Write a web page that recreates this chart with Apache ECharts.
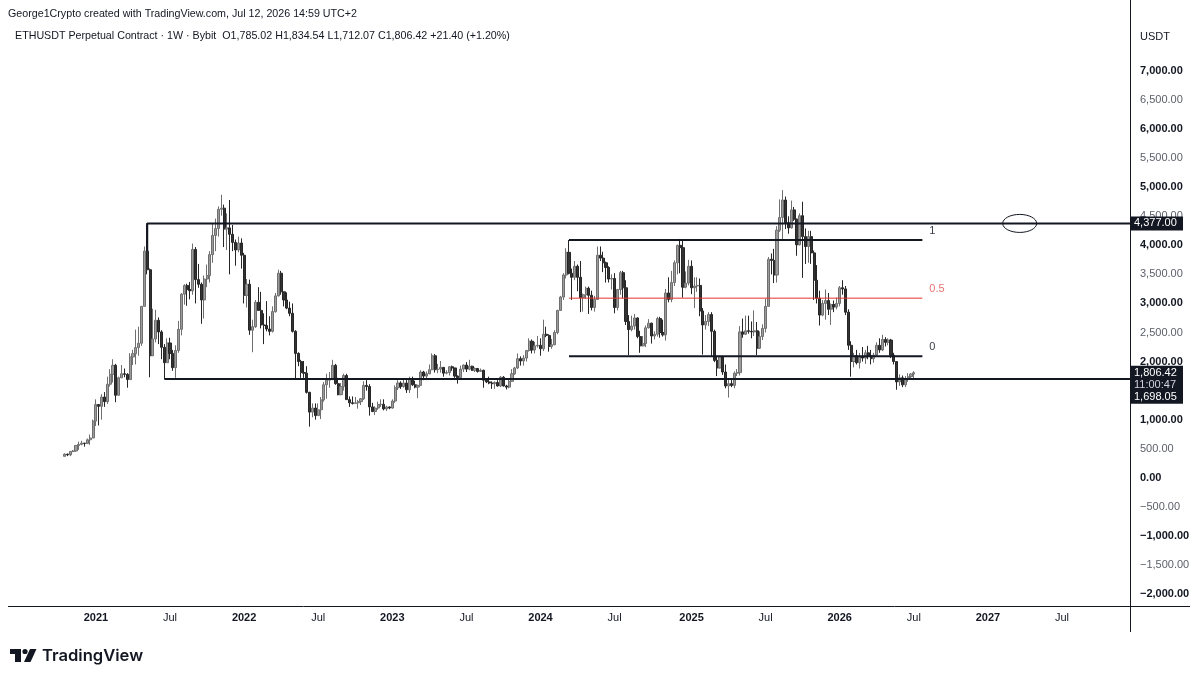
<!DOCTYPE html>
<html>
<head>
<meta charset="utf-8">
<title>ETHUSDT Perpetual 1W</title>
<script src="https://cdn.jsdelivr.net/npm/echarts@6/dist/echarts.min.js"></script>
<style>
  html, body { margin: 0; padding: 0; background: #ffffff; }
  #main { width: 1200px; height: 681px; }
</style>
</head>
<body>
<div id="main"></div>
<script>
// weekly candles [open, high, low, close], one row per week starting at firstWeek
var firstWeek = '2020-10-19';

var ohlc2020 = [
  [369, 421, 368, 406], [406, 416, 372, 396], [396, 460, 373, 454], [454, 478, 440, 461],
  [461, 560, 447, 556], [556, 622, 480, 575], [575, 636, 560, 596], [596, 601, 536, 590],
  [590, 675, 580, 654], [654, 745, 567, 685], [685, 1000, 680, 975]
];

var ohlc2021 = [
  [975, 1350, 890, 1260], [1260, 1270, 900, 1230], [1230, 1440, 1000, 1390], [1390, 1475, 1220, 1310],
  [1310, 1740, 1270, 1610], [1610, 1870, 1570, 1780], [1780, 2040, 1640, 1935], [1935, 1960, 1300, 1420],
  [1420, 1740, 1420, 1720], [1720, 1940, 1720, 1790], [1790, 1880, 1730, 1780], [1780, 1800, 1550, 1690],
  [1690, 2145, 1690, 2080], [2080, 2200, 1940, 2135], [2135, 2550, 1950, 2240], [2240, 2600, 2100, 2315],
  [2315, 2950, 2270, 2950], [2950, 3980, 2950, 3900], [3900, 4377, 3500, 3580], [3580, 3600, 1730, 2100],
  [2100, 2910, 2100, 2390], [2390, 2890, 2330, 2710], [2710, 2760, 2300, 2510], [2510, 2540, 2040, 2245],
  [2245, 2300, 1698.05, 1980], [1980, 2400, 1980, 2320], [2320, 2410, 2040, 2140], [2140, 2200, 1840, 1895],
  [1895, 2280, 1720, 2190], [2190, 2700, 2150, 2555], [2555, 3180, 2450, 3160], [3160, 3330, 2980, 3310],
  [3310, 3340, 2960, 3240], [3240, 3370, 3070, 3220], [3220, 4030, 3150, 3930], [3930, 3970, 3000, 3410],
  [3410, 3680, 3270, 3330], [3330, 3360, 2650, 3060], [3060, 3480, 2740, 3420], [3420, 3670, 3280, 3480],
  [3480, 3900, 3360, 3840], [3840, 4380, 3700, 4170], [4170, 4460, 3900, 4290], [4290, 4670, 4150, 4620],
  [4620, 4870, 4510, 4640], [4640, 4700, 3970, 4280], [4280, 4550, 3920, 4300], [4300, 4780, 3500, 4190],
  [4190, 4350, 3900, 4050], [4050, 4100, 3650, 3920], [3920, 4150, 3880, 4040], [4040, 4120, 3600, 3830]
];

var ohlc2022 = [
  [3830, 3870, 3000, 3140], [3140, 3420, 2930, 3330], [3330, 3410, 2460, 2540], [2540, 2720, 2160, 2600],
  [2600, 3060, 2580, 3020], [3020, 3280, 2870, 2880], [2880, 3200, 2570, 2630], [2630, 2830, 2300, 2620],
  [2620, 3040, 2520, 2560], [2560, 2780, 2450, 2520], [2520, 2950, 2500, 2860], [2860, 3180, 2840, 3130],
  [3130, 3580, 3120, 3520], [3520, 3560, 3150, 3200], [3200, 3200, 2950, 3060], [3060, 3190, 2900, 2920],
  [2920, 3030, 2780, 2830], [2830, 3000, 2500, 2520], [2520, 2540, 1700, 2140], [2140, 2160, 1920, 2000],
  [2000, 2030, 1720, 1810], [1810, 2010, 1720, 1800], [1800, 1920, 1450, 1470], [1470, 1480, 880, 1130],
  [1130, 1280, 1040, 1200], [1200, 1280, 1000, 1070], [1070, 1280, 1070, 1170], [1170, 1390, 1010, 1340],
  [1340, 1650, 1310, 1600], [1600, 1790, 1360, 1680], [1680, 1820, 1550, 1700], [1700, 2030, 1680, 1935],
  [1935, 1960, 1600, 1620], [1620, 1720, 1420, 1430], [1430, 1630, 1420, 1570], [1570, 1790, 1500, 1760],
  [1760, 1790, 1340, 1345], [1345, 1400, 1220, 1290], [1290, 1400, 1260, 1280], [1280, 1390, 1270, 1290],
  [1290, 1340, 1190, 1310], [1310, 1370, 1250, 1360], [1360, 1660, 1340, 1590], [1590, 1680, 1500, 1570],
  [1570, 1610, 1070, 1220], [1220, 1290, 1130, 1140], [1140, 1230, 1080, 1200], [1200, 1310, 1170, 1260],
  [1260, 1350, 1220, 1265], [1265, 1350, 1160, 1185], [1185, 1240, 1150, 1218], [1218, 1230, 1180, 1200]
];

var ohlc2023 = [
  [1200, 1350, 1190, 1320], [1320, 1590, 1290, 1550], [1550, 1680, 1510, 1630], [1630, 1660, 1530, 1570],
  [1570, 1700, 1550, 1630], [1630, 1680, 1460, 1515], [1515, 1740, 1460, 1690], [1690, 1740, 1580, 1600],
  [1600, 1670, 1540, 1560], [1560, 1600, 1370, 1590], [1590, 1850, 1590, 1820], [1820, 1840, 1680, 1750],
  [1750, 1830, 1700, 1790], [1790, 1950, 1780, 1860], [1860, 2140, 1850, 2100], [2100, 2130, 1810, 1860],
  [1860, 1960, 1800, 1870], [1870, 2010, 1810, 1900], [1900, 1900, 1740, 1800], [1800, 1850, 1780, 1810],
  [1810, 1920, 1760, 1910], [1910, 1930, 1840, 1890], [1890, 1890, 1720, 1750], [1750, 1760, 1620, 1720],
  [1720, 1930, 1720, 1870], [1870, 1950, 1820, 1940], [1940, 1990, 1820, 1870], [1870, 2030, 1850, 1920],
  [1920, 1930, 1840, 1850], [1850, 1900, 1820, 1880], [1880, 1890, 1810, 1830], [1830, 1880, 1820, 1850],
  [1850, 1860, 1550, 1680], [1680, 1700, 1630, 1650], [1650, 1740, 1610, 1630], [1630, 1660, 1530, 1620],
  [1620, 1660, 1530, 1640], [1640, 1680, 1570, 1580], [1580, 1750, 1560, 1730], [1730, 1750, 1570, 1580],
  [1580, 1600, 1520, 1560], [1560, 1690, 1540, 1660], [1660, 1870, 1650, 1790], [1790, 1910, 1770, 1890],
  [1890, 2140, 1870, 2050], [2050, 2090, 1930, 2010], [2010, 2110, 1930, 2060], [2060, 2200, 2000, 2190],
  [2190, 2400, 2170, 2350], [2350, 2380, 2140, 2200], [2200, 2340, 2140, 2270], [2270, 2440, 2240, 2280]
];

var ohlc2024 = [
  [2280, 2400, 2100, 2220], [2220, 2720, 2180, 2470], [2470, 2600, 2420, 2450], [2450, 2470, 2170, 2260],
  [2260, 2390, 2220, 2290], [2290, 2540, 2280, 2500], [2500, 2890, 2470, 2880], [2880, 3130, 2870, 3110],
  [3110, 3520, 3060, 3490], [3490, 3950, 3430, 3880], [3880, 4093, 3500, 3520], [3520, 3600, 3060, 3450],
  [3450, 3730, 3400, 3640], [3640, 3670, 3210, 3450], [3450, 3730, 2850, 3100], [3100, 3170, 2860, 3150],
  [3150, 3290, 3080, 3260], [3260, 3290, 2820, 3140], [3140, 3220, 2880, 2930], [2930, 3130, 2860, 3070],
  [3070, 3980, 3060, 3830], [3830, 3980, 3730, 3780], [3780, 3890, 3540, 3700], [3700, 3720, 3360, 3620],
  [3620, 3640, 3360, 3420], [3420, 3500, 3240, 3430], [3430, 3520, 2830, 2930], [2930, 3250, 2880, 3240],
  [3240, 3560, 3150, 3530], [3530, 3560, 3090, 3270], [3270, 3400, 2630, 2690], [2690, 2800, 2111, 2550],
  [2550, 2790, 2520, 2610], [2610, 2820, 2550, 2750], [2750, 2760, 2400, 2430], [2430, 2530, 2150, 2270],
  [2270, 2440, 2260, 2310], [2310, 2620, 2250, 2580], [2580, 2730, 2570, 2660], [2660, 2670, 2310, 2440],
  [2440, 2520, 2380, 2470], [2470, 2770, 2430, 2740], [2740, 2770, 2410, 2500], [2500, 2720, 2430, 2460],
  [2460, 3250, 2360, 3180], [3180, 3450, 3020, 3070], [3070, 3560, 3020, 3360], [3360, 3740, 3300, 3700],
  [3700, 4010, 3500, 4000], [4000, 4110, 3520, 3960], [3960, 4110, 3100, 3280], [3280, 3550, 3260, 3350],
  [3350, 3750, 3310, 3640]
];

var ohlc2025 = [
  [3640, 3740, 3160, 3270], [3270, 3450, 2920, 3300], [3300, 3450, 3200, 3310], [3310, 3430, 2780, 2870],
  [2870, 2920, 2120, 2630], [2630, 2800, 2550, 2690], [2690, 2850, 2610, 2810], [2810, 2850, 2080, 2520],
  [2520, 2550, 1990, 2020], [2020, 2100, 1750, 1890], [1890, 2100, 1880, 2080], [2080, 2100, 1770, 1820],
  [1820, 1950, 1540, 1580], [1580, 1690, 1380, 1620], [1620, 1690, 1560, 1590], [1590, 1830, 1540, 1800],
  [1800, 1870, 1750, 1810], [1810, 2610, 1760, 2510], [2510, 2740, 2410, 2470], [2470, 2790, 2460, 2530],
  [2530, 2790, 2480, 2520], [2520, 2690, 2400, 2510], [2510, 2880, 2440, 2530], [2530, 2680, 2110, 2230],
  [2230, 2520, 2220, 2430], [2430, 2640, 2370, 2570], [2570, 3080, 2500, 2950], [2950, 3800, 2950, 3760],
  [3760, 3860, 3500, 3740], [3740, 3940, 3350, 3490], [3490, 4330, 3360, 4260], [4260, 4790, 4230, 4480],
  [4480, 4950, 4080, 4780], [4780, 4840, 4280, 4390], [4390, 4500, 4200, 4300], [4300, 4770, 4290, 4610],
  [4610, 4660, 4420, 4450], [4450, 4460, 3820, 4010], [4010, 4550, 4000, 4510], [4510, 4750, 3440, 4150],
  [4150, 4290, 3680, 3980], [3980, 4250, 3700, 4150], [4150, 4250, 3680, 3870], [3870, 3910, 3060, 3400],
  [3400, 3660, 3000, 3090], [3090, 3220, 2620, 2800], [2800, 3060, 2780, 3000], [3000, 3240, 2720, 3050],
  [3050, 3180, 2800, 2900], [2900, 3000, 2630, 2980], [2980, 3050, 2850, 2940], [2940, 3100, 2900, 3000]
];

var ohlc2026 = [
  [3000, 3300, 2950, 3270], [3270, 3400, 3150, 3250], [3250, 3300, 2800, 2850], [2850, 2900, 2200, 2280],
  [2280, 2350, 1740, 2000], [2000, 2150, 1900, 2100], [2100, 2200, 1950, 1980], [1980, 2150, 1880, 2080],
  [2080, 2250, 2000, 2060], [2060, 2200, 1960, 2150], [2150, 2270, 2040, 2100], [2100, 2200, 1950, 2050],
  [2050, 2150, 1980, 2110], [2110, 2330, 2080, 2280], [2280, 2400, 2150, 2200], [2200, 2460, 2180, 2380],
  [2380, 2420, 2260, 2330], [2330, 2400, 2280, 2370], [2370, 2390, 2060, 2110], [2110, 2150, 1950, 2000],
  [2000, 2000, 1515, 1650], [1650, 1780, 1580, 1720], [1720, 1760, 1560, 1600], [1600, 1750, 1560, 1700],
  [1700, 1800, 1650, 1740], [1740, 1800, 1700, 1785.02], [1785.02, 1834.54, 1712.07, 1806.42]
];

// drawings
var resistance = 4377.00;
var resistanceFrom = '2021-05-10';
var resistanceWickBase = 3900;
var support = 1698.05;
var supportFrom = '2021-06-21';
var fibFrom = '2024-03-11';
var fibTo = '2026-07-27';
var fibRatios = ['1', '0.5', '0'];
var fibPrices = [4092, 3091, 2090];
var circleAt = '2027-03-23';
var countdown = '11:00:47';

// date axis (first weekly bar of each half year, as TradingView labels them)
var xMin = '2020-06-02';
var xMax = '2027-12-19';
var tickDates = ['2021-01-04', '2021-07-05', '2022-01-03', '2022-07-04', '2023-01-02', '2023-07-03',
  '2024-01-01', '2024-07-01', '2025-01-06', '2025-07-07', '2026-01-05', '2026-07-06',
  '2027-01-04', '2027-07-05'];

var INK = '#131722';
var FONT = '"Liberation Sans", Arial, sans-serif';
var WEEK = 7 * 24 * 3600 * 1000;

function ts(s) {
  var p = s.split('-');
  return Date.UTC(+p[0], +p[1] - 1, +p[2]);
}

function fmt(v) {
  var s = Math.abs(v).toLocaleString('en-US', { minimumFractionDigits: 2, maximumFractionDigits: 2 });
  return v < 0 ? '\u2212' + s : s;
}

var candles = [].concat(ohlc2020, ohlc2021, ohlc2022, ohlc2023, ohlc2024, ohlc2025, ohlc2026);
var t0 = ts(firstWeek);
var candleData = candles.map(function (c, i) {
  return [t0 + i * WEEK, c[0], c[3], c[2], c[1]];
});
var last = candles[candles.length - 1];

function drawLine(points, width, color, label, labelColor) {
  var s = {
    type: 'line',
    data: points,
    symbol: 'none',
    silent: true,
    z: 5,
    lineStyle: { width: width, color: color }
  };
  if (label) {
    s.endLabel = {
      show: true, formatter: label, distance: 0, offset: [7, -9],
      color: labelColor, fontSize: 11, fontFamily: FONT
    };
  }
  return s;
}

var series = [{
  type: 'candlestick',
  data: candleData,
  encode: { x: 0, y: [1, 2, 3, 4] },
  barWidth: 2.6,
  z: 3,
  itemStyle: {
    color: '#9b9b9b', color0: '#333333',
    borderColor: '#6f6f6f', borderColor0: '#262626', borderWidth: 1
  }
}];

series.push(drawLine([[ts(resistanceFrom), resistanceWickBase], [ts(resistanceFrom), resistance], [ts(xMax), resistance]], 2, INK));
series.push(drawLine([[ts(supportFrom), support], [ts(xMax), support]], 2, INK));
fibRatios.forEach(function (r, i) {
  var mid = r === '0.5';
  series.push(drawLine([[ts(fibFrom), fibPrices[i]], [ts(fibTo), fibPrices[i]]],
    mid ? 1 : 2, mid ? '#e5332a' : INK, r, mid ? '#e57373' : '#3b3e47'));
});

var chart = echarts.init(document.getElementById('main'), null, { renderer: 'canvas' });

chart.setOption({
  animation: false,
  backgroundColor: '#ffffff',
  textStyle: { fontFamily: FONT },
  grid: { left: 8, right: 70, top: 71, bottom: 87 },
  xAxis: {
    type: 'value',
    min: ts(xMin),
    max: ts(xMax),
    axisLine: { show: false },
    axisTick: { show: false },
    splitLine: { show: false },
    axisLabel: {
      customValues: tickDates.map(ts),
      margin: 18,
      formatter: function (v) {
        var d = new Date(v);
        return d.getUTCMonth() === 0 ? '{y|' + d.getUTCFullYear() + '}' : '{m|Jul}';
      },
      rich: {
        y: { fontSize: 11, fontWeight: 'bold', color: INK, fontFamily: FONT },
        m: { fontSize: 11, color: INK, fontFamily: FONT }
      }
    }
  },
  yAxis: {
    type: 'value',
    position: 'right',
    min: -2000,
    max: 7000,
    interval: 500,
    axisLine: { show: false },
    axisTick: { show: false },
    splitLine: { show: false },
    axisLabel: {
      margin: 10,
      showMinLabel: true,
      showMaxLabel: true,
      formatter: function (v) {
        return (v % 1000 === 0 ? '{b|' : '{n|') + fmt(v) + '}';
      },
      rich: {
        b: { fontSize: 11, fontWeight: 'bold', color: INK, fontFamily: FONT },
        n: { fontSize: 11, color: '#5d606b', fontFamily: FONT }
      }
    }
  },
  series: series
});

var yRes = chart.convertToPixel({ yAxisIndex: 0 }, resistance);
var yLast = chart.convertToPixel({ yAxisIndex: 0 }, last[3]);
var ring = chart.convertToPixel({ gridIndex: 0 }, [ts(circleAt), resistance]);

function txt(x, y, s, font, fill) {
  return {
    type: 'text', x: x, y: y, silent: true, z: 30,
    style: { text: s, font: font, fill: fill, textVerticalAlign: 'middle' }
  };
}

var small = '10.7px ' + FONT;

chart.setOption({
  graphic: [
    txt(8, 14, 'George1Crypto created with TradingView.com, Jul 12, 2026 14:59 UTC+2', small, INK),
    txt(15, 36, 'ETHUSDT Perpetual Contract \u00b7 1W \u00b7 Bybit  O' + fmt(last[0]) + ' H' + fmt(last[1]) +
      ' L' + fmt(last[2]) + ' C' + fmt(last[3]) + ' +21.40 (+1.20%)', small, INK),
    txt(1140, 37, 'USDT', '11px ' + FONT, INK),
    { type: 'line', silent: true, z: 20, shape: { x1: 1130.5, y1: 0, x2: 1130.5, y2: 632 }, style: { stroke: INK, lineWidth: 1 } },
    { type: 'line', silent: true, z: 20, shape: { x1: 8, y1: 606.5, x2: 1190, y2: 606.5 }, style: { stroke: INK, lineWidth: 1 } },
    { type: 'ellipse', silent: true, z: 20, shape: { cx: ring[0], cy: ring[1], rx: 17, ry: 9 }, style: { fill: null, stroke: INK, lineWidth: 1 } },
    { type: 'rect', silent: true, z: 21, shape: { x: 1130, y: yRes - 7, width: 53, height: 14 }, style: { fill: INK } },
    txt(1134, yRes, fmt(resistance), '11px ' + FONT, '#ffffff'),
    { type: 'rect', silent: true, z: 21, shape: { x: 1130, y: yLast - 7, width: 53, height: 38 }, style: { fill: INK } },
    txt(1134, yLast, fmt(last[3]), '11px ' + FONT, '#ffffff'),
    txt(1134, yLast + 12, countdown, '11px ' + FONT, '#d1d4dc'),
    txt(1134, yLast + 24, fmt(support), '11px ' + FONT, '#ffffff'),
    // TradingView logo
    { type: 'rect', silent: true, shape: { x: 10, y: 649, width: 11, height: 5 }, style: { fill: INK } },
    { type: 'rect', silent: true, shape: { x: 15, y: 649, width: 6, height: 13 }, style: { fill: INK } },
    { type: 'circle', silent: true, shape: { cx: 25, cy: 651.5, r: 2.6 }, style: { fill: INK } },
    { type: 'polygon', silent: true, shape: { points: [[30, 649], [36.5, 649], [30.5, 662], [24, 662]] }, style: { fill: INK } },
    txt(42, 656, 'TradingView', '600 16.6px Inter, ' + FONT, INK)
  ]
});
</script>
</body>
</html>
